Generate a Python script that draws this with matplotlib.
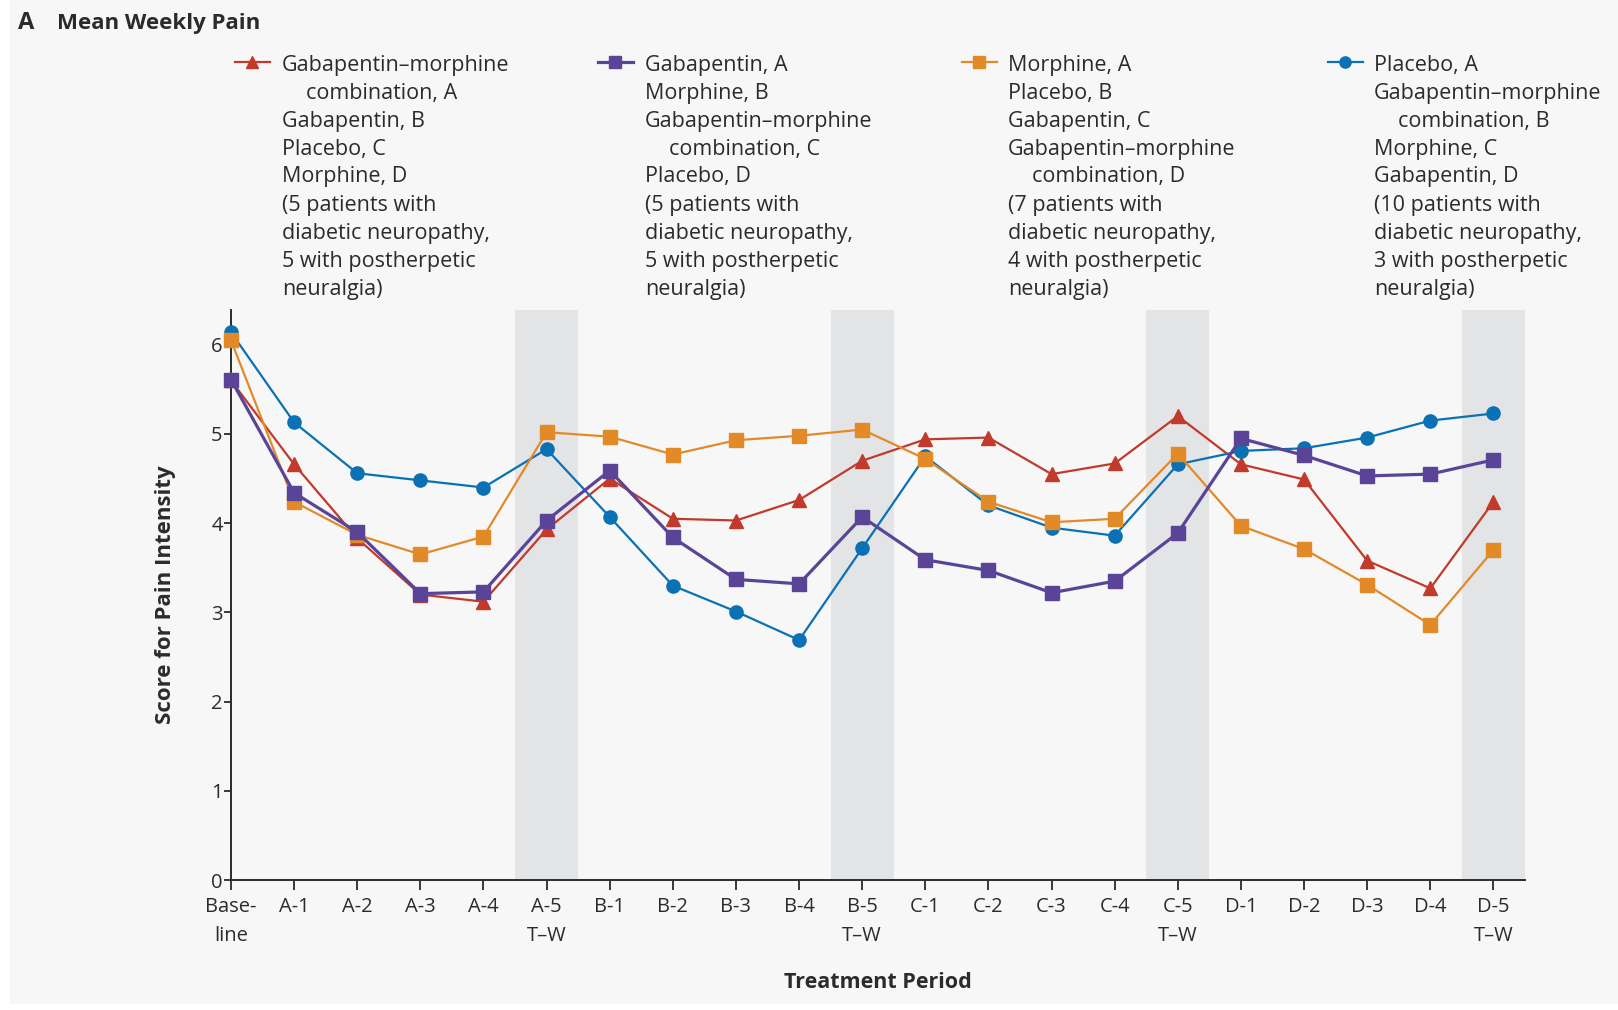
import matplotlib.pyplot as plt
from matplotlib.lines import Line2D
from matplotlib.patches import Rectangle

plt.rcParams['font.family'] = ['Open Sans', 'DejaVu Sans']

# weekly periods: baseline, then 5 weeks per treatment (week 5 = taper/washout)
periods = ['Base-\nline', 'A-1', 'A-2', 'A-3', 'A-4', 'A-5\nT\u2013W',
           'B-1', 'B-2', 'B-3', 'B-4', 'B-5\nT\u2013W',
           'C-1', 'C-2', 'C-3', 'C-4', 'C-5\nT\u2013W',
           'D-1', 'D-2', 'D-3', 'D-4', 'D-5\nT\u2013W']
washout_idx = [5, 10, 15, 20]
yticks = [0, 1, 2, 3, 4, 5, 6]

combo_first = [5.60, 4.66, 3.83, 3.20, 3.12, 3.93, 4.50, 4.05, 4.03, 4.26, 4.70,
               4.94, 4.96, 4.55, 4.67, 5.20, 4.66, 4.49, 3.58, 3.27, 4.24]
gaba_first = [5.61, 4.34, 3.90, 3.21, 3.23, 4.03, 4.59, 3.84, 3.37, 3.32, 4.07,
              3.59, 3.47, 3.22, 3.35, 3.89, 4.95, 4.76, 4.53, 4.55, 4.71]
morph_first = [6.05, 4.24, 3.87, 3.65, 3.85, 5.02, 4.97, 4.77, 4.93, 4.98, 5.05,
               4.72, 4.24, 4.01, 4.05, 4.78, 3.97, 3.71, 3.31, 2.86, 3.70]
placebo_first = [6.14, 5.13, 4.56, 4.48, 4.40, 4.83, 4.07, 3.30, 3.01, 2.69, 3.72,
                 4.75, 4.20, 3.95, 3.86, 4.66, 4.81, 4.84, 4.96, 5.15, 5.23]

combo_text = ['Gabapentin\u2013morphine', '  combination, A', 'Gabapentin, B', 'Placebo, C',
              'Morphine, D', '(5 patients with', 'diabetic neuropathy,',
              '5 with postherpetic', 'neuralgia)']
gaba_text = ['Gabapentin, A', 'Morphine, B', 'Gabapentin\u2013morphine', '  combination, C',
             'Placebo, D', '(5 patients with', 'diabetic neuropathy,',
             '5 with postherpetic', 'neuralgia)']
morph_text = ['Morphine, A', 'Placebo, B', 'Gabapentin, C', 'Gabapentin\u2013morphine',
              '  combination, D', '(7 patients with', 'diabetic neuropathy,',
              '4 with postherpetic', 'neuralgia)']
placebo_text = ['Placebo, A', 'Gabapentin\u2013morphine', '  combination, B', 'Morphine, C',
                'Gabapentin, D', '(10 patients with', 'diabetic neuropathy,',
                '3 with postherpetic', 'neuralgia)']

RED = '#c13a2c'
PURPLE = '#5a4498'
ORANGE = '#e38a28'
BLUE = '#0a71b4'
BG = '#f7f7f7'
INK = '#2b2b2b'

W, H = 1618, 1010
fig = plt.figure(figsize=(W / 100, H / 100), dpi=100, facecolor='white')
fig.patches.append(Rectangle((10 / W, 6 / H), 1, 1, transform=fig.transFigure,
                             facecolor=BG, edgecolor='none', zorder=-10))

def fx(px):
    return px / W

def fy(py):
    return 1 - py / H

ax = fig.add_axes([fx(231), fy(880), fx(1525) - fx(231), fy(310) - fy(880)])
ax.set_facecolor(BG)

x = list(range(len(periods)))
for i in washout_idx:
    ax.axvspan(i - 0.5, i + 0.5, color='#e3e4e6', lw=0, zorder=0)

series = [
    (combo_first, RED, '^', 9.5, 1.6, combo_text),
    (placebo_first, BLUE, 'o', 9.5, 1.6, placebo_text),
    (morph_first, ORANGE, 's', 10.5, 1.6, morph_text),
    (gaba_first, PURPLE, 's', 10.5, 2.3, gaba_text),
]
for z, (vals, col, mk, ms, lw, _) in enumerate(series):
    ax.plot(x, vals, color=col, lw=lw, marker=mk, ms=ms, mec=col, mfc=col,
            clip_on=False, zorder=3 + z)

ax.set_xlim(0, 20.5)
ax.set_ylim(0, 6.39)
ax.set_xticks(x)
ax.set_xticklabels(periods, fontsize=14.5, color=INK, linespacing=1.6)
ax.set_yticks(yticks)
ax.set_yticklabels([str(v) for v in yticks], fontsize=14.5, color=INK)
ax.tick_params(axis='x', direction='out', length=7, width=1.3, color=INK, pad=5)
ax.tick_params(axis='y', direction='out', length=5, width=1.3, color=INK, pad=1)
for side in ['top', 'right']:
    ax.spines[side].set_visible(False)
for side in ['left', 'bottom']:
    ax.spines[side].set_color(INK)
    ax.spines[side].set_linewidth(1.4)

ax.set_xlabel('Treatment Period', fontsize=15.5, fontweight='bold', color=INK)
ax.xaxis.set_label_coords(0.5, (880 - 972) / 570)
ax.set_ylabel('Score for Pain Intensity', fontsize=16, fontweight='bold', color=INK)
ax.yaxis.set_label_coords((176 - 231) / 1294, 0.5)

fig.text(fx(18), fy(23), 'A', fontsize=17, fontweight='bold', color=INK, va='center')
fig.text(fx(57), fy(23), 'Mean Weekly Pain', fontsize=16, fontweight='bold',
         color=INK, va='center')

# legend blocks: handle + stacked text lines
legend_x = [(235, 282), (598, 645), (962, 1008), (1328, 1374)]
order = [0, 3, 2, 1]
for (hx, tx), k in zip(legend_x, order):
    vals, col, mk, ms, lw, lines = series[k]
    fig.add_artist(Line2D([fx(hx), fx(hx + 17), fx(hx + 35)], [fy(62)] * 3,
                          transform=fig.transFigure, color=col, lw=lw, marker=mk,
                          ms=ms * 0.85, mec=col, mfc=col, markevery=[1]))
    for j, line in enumerate(lines):
        indent = 24 if line.startswith('  ') else 0
        fig.text(fx(tx + indent), fy(65 + 28 * j), line.strip(), fontsize=15.5,
                 color=INK, va='center', ha='left')

fig.savefig('out.png', dpi=100, facecolor=fig.get_facecolor())
